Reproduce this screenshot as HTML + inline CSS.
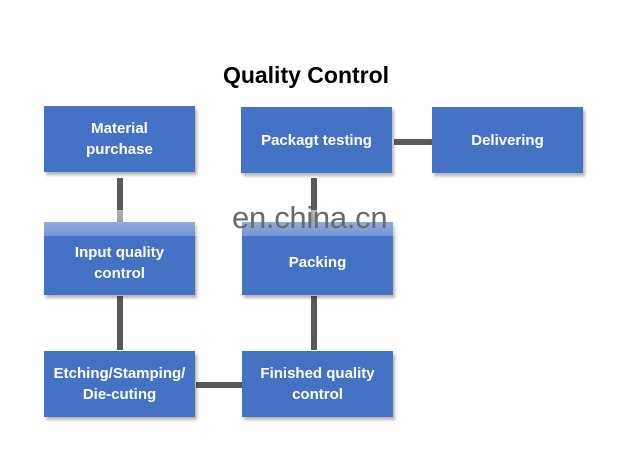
<!DOCTYPE html>
<html><head><style>
body{margin:0;width:620px;height:460px;background:#fff;position:relative;overflow:hidden;font-family:"Liberation Sans",Arial,sans-serif}
.b{position:absolute;background:#4472c4;color:#fff;font-weight:bold;font-size:15px;line-height:21px;display:flex;align-items:center;justify-content:center;text-align:center;box-shadow:2px 3px 3px rgba(0,0,0,.3)}
.l{position:absolute;background:#595959}
.t{position:absolute;left:0;width:612px;top:62px;text-align:center;font-weight:bold;font-size:23px;color:#000}
</style></head><body>
<div class="t">Quality Control</div>
<div class="l" style="left:117px;top:178px;width:6px;height:44px"></div>
<div class="l" style="left:117px;top:296px;width:6px;height:54px"></div>
<div class="l" style="left:311px;top:178px;width:6px;height:44px"></div>
<div class="l" style="left:311px;top:296px;width:6px;height:54px"></div>
<div class="l" style="left:394px;top:139px;width:38px;height:6px"></div>
<div class="l" style="left:196px;top:382px;width:46px;height:6px"></div>
<div class="b" style="left:44px;top:106px;width:151px;height:66px">Material<br>purchase</div>
<div class="b" style="left:241px;top:107px;width:151px;height:66px">Packagt testing</div>
<div class="b" style="left:432px;top:107px;width:151px;height:66px">Delivering</div>
<div class="b" style="left:44px;top:222px;width:151px;height:73px;padding-top:8px;box-sizing:border-box">Input quality<br>control</div>
<div class="b" style="left:242px;top:222px;width:151px;height:73px;padding-top:8px;box-sizing:border-box">Packing</div>
<div class="b" style="left:44px;top:351px;width:151px;height:66px">Etching/Stamping/<br>Die-cuting</div>
<div class="b" style="left:242px;top:351px;width:151px;height:66px">Finished quality<br>control</div>
<div style="position:absolute;left:30px;top:210px;width:380px;height:26px;background:linear-gradient(rgba(255,255,255,.55),rgba(255,255,255,.25))"></div>
<div style="position:absolute;left:232px;top:200px;font-size:31px;color:#6a6a6a;letter-spacing:-0.3px">en.china.cn</div>
</body></html>
